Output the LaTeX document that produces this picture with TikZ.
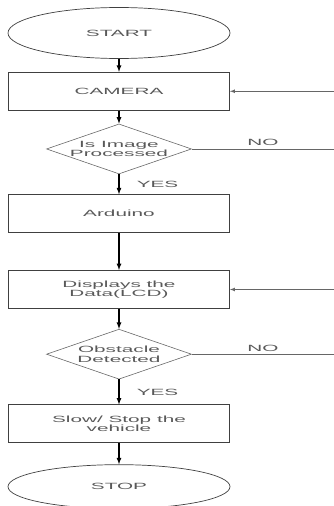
\documentclass[tikz,border=0pt]{standalone}
\usepackage{fontspec}
\setmainfont[FakeStretch=2.3]{Liberation Sans}
\usetikzlibrary{positioning, shapes.geometric}

\begin{document}
\begin{tikzpicture}[
        node distance=0.4cm,
        every node/.style={font=\fontsize{7.7}{8.2}\selectfont, text=black!65},
        terminal/.style={draw=black!75, line width=0.6pt, ellipse, inner sep=0pt, minimum width=6.66cm, minimum height=1.5cm},
        box/.style={draw=black!75, line width=0.7pt, rectangle, minimum height=1.14cm, minimum width=6.63cm, align=center},
        decision/.style={draw=black!60, line width=0.5pt, diamond, aspect=2.9, inner sep=-3pt, minimum width=4.35cm, minimum height=1.5cm, align=center},
        flow/.style={-latex, line width=0.9pt, black},
        back/.style={line width=0.5pt, black!60}
    ]

    \useasboundingbox (0,0) rectangle (10.02,-15.18);

    \node[terminal, minimum height=1.53cm] (start) at (3.57,-0.99) {START};
    \node[box, below=0.39cm of start] (camera) {CAMERA};
    \node[decision, below=0.39cm of camera] (processed) {Is Image\\Processed};
    \node[box, below=0.6cm of processed] (arduino) {Arduino};
    \node[box, below=1.11cm of arduino] (display) {Displays the\\Data(LCD)};
    \node[decision, below=0.6cm of display] (obstacle) {Obstacle\\Detected};
    \node[box, below=0.75cm of obstacle] (slow) {Slow/ Stop the\\vehicle};
    \node[terminal, minimum height=1.32cm, below=0.63cm of slow] (stop) {STOP};

    % loose ends at the right border
    \coordinate (edge) at (10.02,0);
    \coordinate (camIn) at (camera.east -| edge);
    \coordinate (noOut1) at (processed.east -| edge);
    \coordinate (dispIn) at (display.east -| edge);
    \coordinate (noOut2) at (obstacle.east -| edge);

    \draw[flow] (start) -- (camera);
    \draw[flow] (camera) -- (processed);
    \draw[flow] (processed) -- node[right, xshift=0.4cm] (yes1) {YES} (arduino);
    \draw[flow] (arduino) -- (display);
    \draw[flow] (display) -- (obstacle);
    \draw[flow] (obstacle) -- node[right, xshift=0.4cm] (yes2) {YES} (slow);
    \draw[flow] (slow) -- (stop);

    \draw[back, -latex] (camIn) -- (camera.east);
    \draw[back] (processed.east) -- node[above, yshift=-1pt] (no1) {NO} (noOut1);
    \draw[back, -latex] (dispIn) -- (display.east);
    \draw[back] (obstacle.east) -- node[above, yshift=-1pt] (no2) {NO} (noOut2);

\end{tikzpicture}
\end{document}
